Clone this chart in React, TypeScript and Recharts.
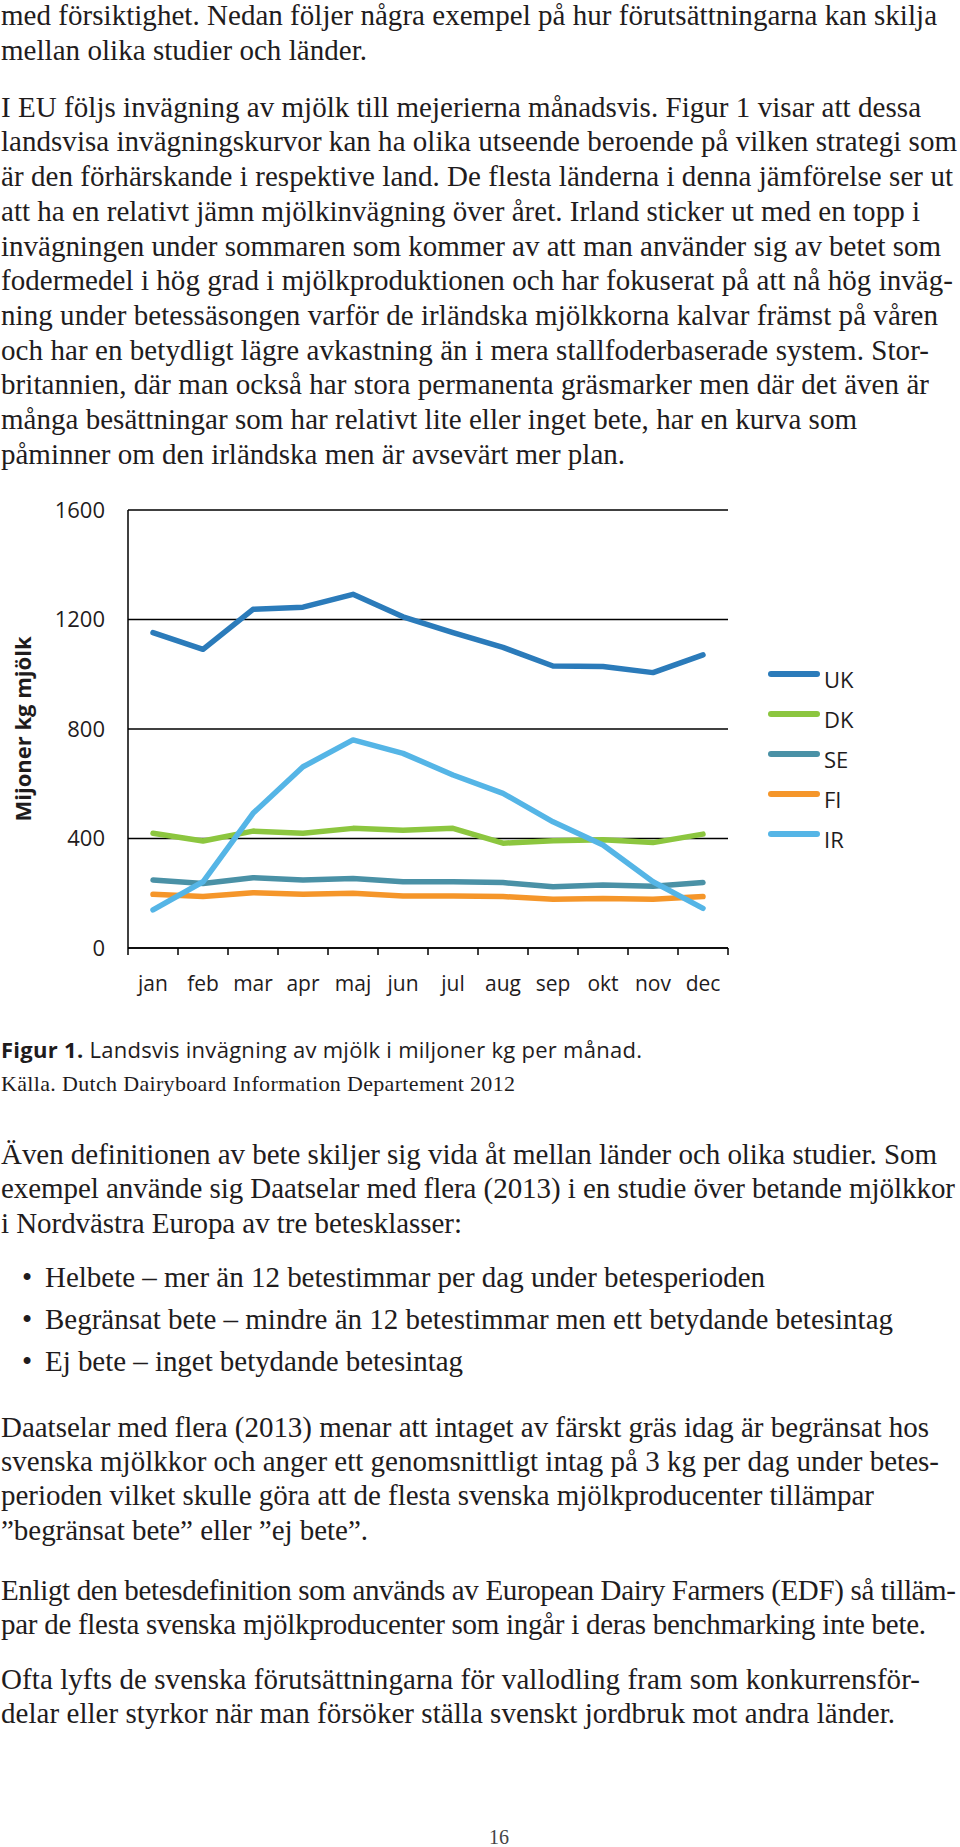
import React from 'react';
import {
  LineChart, Line, XAxis, YAxis, CartesianGrid, Legend,
} from 'recharts';

// Månader och invägning (miljoner kg) per land
const MONTHS = ['jan', 'feb', 'mar', 'apr', 'maj', 'jun', 'jul', 'aug', 'sep', 'okt', 'nov', 'dec'];
const UK = [1152, 1091, 1237, 1245, 1292, 1210, 1152, 1098, 1030, 1028, 1006, 1071];
const DK = [419, 391, 427, 419, 437, 430, 437, 383, 392, 395, 385, 416];
const SE = [248, 236, 257, 248, 254, 242, 242, 239, 224, 230, 226, 239];
const FI = [196, 188, 202, 196, 200, 190, 190, 188, 178, 181, 178, 188];
const IR = [139, 242, 492, 662, 760, 711, 632, 565, 461, 376, 242, 145];
const Y_TICKS = [0, 400, 800, 1200, 1600];
const X_BOUNDS = [0, 1, 2, 3, 4, 5, 6, 7, 8, 9, 10, 11, 12];

const SERIES = [
  { key: 'UK', color: '#2b7bba' },
  { key: 'DK', color: '#8cc63f' },
  { key: 'SE', color: '#4a91a6' },
  { key: 'FI', color: '#f5962a' },
  { key: 'IR', color: '#55b5e6' },
];

const data = MONTHS.map((m, i) => ({
  pos: i + 0.5,
  month: m,
  UK: UK[i], DK: DK[i], SE: SE[i], FI: FI[i], IR: IR[i],
}));

// Brödtext, rad för rad: [text, högerkant i px]
const TEXT_TOP: [string, number][] = [
  ['med försiktighet. Nedan följer några exempel på hur förutsättningarna kan skilja', 937],
  ['mellan olika studier och länder.', 367],
];
const TEXT_P2: [string, number][] = [
  ['I EU följs invägning av mjölk till mejerierna månadsvis. Figur 1 visar att dessa', 921],
  ['landsvisa invägningskurvor kan ha olika utseende beroende på vilken strategi som', 957],
  ['är den förhärskande i respektive land. De flesta länderna i denna jämförelse ser ut', 953],
  ['att ha en relativt jämn mjölkinvägning över året. Irland sticker ut med en topp i', 920],
  ['invägningen under sommaren som kommer av att man använder sig av betet som', 941],
  ['fodermedel i hög grad i mjölkproduktionen och har fokuserat på att nå hög inväg-', 953],
  ['ning under betessäsongen varför de irländska mjölkkorna kalvar främst på våren', 938],
  ['och har en betydligt lägre avkastning än i mera stallfoderbaserade system. Stor-', 929],
  ['britannien, där man också har stora permanenta gräsmarker men där det även är', 929],
  ['många besättningar som har relativt lite eller inget bete, har en kurva som', 857],
  ['påminner om den irländska men är avsevärt mer plan.', 625],
];
const TEXT_P3: [string, number][] = [
  ['Även definitionen av bete skiljer sig vida åt mellan länder och olika studier. Som', 937],
  ['exempel använde sig Daatselar med flera (2013) i en studie över betande mjölkkor', 955],
  ['i Nordvästra Europa av tre betesklasser:', 462],
];
const BULLETS: [string, number][] = [
  ['Helbete – mer än 12 betestimmar per dag under betesperioden', 765],
  ['Begränsat bete – mindre än 12 betestimmar men ett betydande betesintag', 893],
  ['Ej bete – inget betydande betesintag', 463],
];
const TEXT_P4: [string, number][] = [
  ['Daatselar med flera (2013) menar att intaget av färskt gräs idag är begränsat hos', 929],
  ['svenska mjölkkor och anger ett genomsnittligt intag på 3 kg per dag under betes-', 939],
  ['perioden vilket skulle göra att de flesta svenska mjölkproducenter tillämpar', 874],
  ['”begränsat bete” eller ”ej bete”.', 368],
];
const TEXT_P5: [string, number][] = [
  ['Enligt den betesdefinition som används av European Dairy Farmers (EDF) så tilläm-', 956],
  ['par de flesta svenska mjölkproducenter som ingår i deras benchmarking inte bete.', 926],
];
const TEXT_P6: [string, number][] = [
  ['Ofta lyfts de svenska förutsättningarna för vallodling fram som konkurrensför-', 920],
  ['delar eller styrkor när man försöker ställa svenskt jordbruk mot andra länder.', 895],
];

const SERIF = '"Liberation Serif", "Times New Roman", serif';
const SANS = '"Open Sans", "Noto Sans", sans-serif';
const INK = '#1f1c1d';
const FS = 29;
const STEP = 34.7;

function Row({ text, cy, x = 1, right, size = FS, family = SERIF }: any) {
  return (
    <text x={x} y={cy + size * 0.3} fontSize={size} fontFamily={family} fill={INK}
      textLength={right - x} lengthAdjust="spacing">{text}</text>
  );
}

function Block({ lines, start, step = STEP }: { lines: [string, number][]; start: number; step?: number }) {
  return <>{lines.map(([t, r], i) => <Row key={i} text={t} right={r} cy={start + i * step} />)}</>;
}

const HALF_CAT = 25;

function MonthTick(props: any) {
  const { x, y, payload } = props;
  const idx = payload.value;
  if (idx >= MONTHS.length) return <g />;
  return (
    <text x={x + HALF_CAT} y={y} dy={34} textAnchor="middle" fontSize={21} fontFamily={SANS} fill={INK}>
      {MONTHS[idx]}
    </text>
  );
}

function LegendBox() {
  return (
    <div style={{ fontFamily: SANS }}>
      {SERIES.map((s) => (
        <div key={s.key} style={{ display: 'flex', alignItems: 'center', height: 40 }}>
          <span style={{ width: 52, height: 6, borderRadius: 3, background: s.color, display: 'inline-block' }} />
          <span style={{ fontSize: 22, color: INK, marginLeft: 4, paddingTop: 10 }}>{s.key}</span>
        </div>
      ))}
    </div>
  );
}

function YLabel(props: any) {
  const { viewBox } = props;
  const x = viewBox.x + 22;
  const y = viewBox.y + viewBox.height / 2;
  return (
    <text x={x} y={y} transform={`rotate(-90, ${x}, ${y})`} textAnchor="middle" dominantBaseline="central"
      fontSize={22} fontWeight="bold" fontFamily={SANS} fill={INK}>
      Mijoner kg mjölk
    </text>
  );
}

export default function App() {
  return (
    <div style={{ position: 'absolute', left: 0, top: 0, width: 960, height: 1847, background: '#fff', overflow: 'hidden' }}>
      <svg width={960} height={1847} style={{ position: 'absolute', left: 0, top: 0 }}>
        <Block lines={TEXT_TOP} start={16.5} />
        <Block lines={TEXT_P2} start={108} />

        <text x={1} y={1050 + 22 * 0.36} fontSize={22} fontFamily={SANS} fill={INK} textLength={641} lengthAdjust="spacing">
          <tspan fontWeight="bold">Figur 1.</tspan> Landsvis invägning av mjölk i miljoner kg per månad.
        </text>
        <Row text="Källa. Dutch Dairyboard Information Departement 2012" cy={1084} size={22} right={515} />

        <Block lines={TEXT_P3} start={1155} />
        {BULLETS.map(([b, r], i) => (
          <React.Fragment key={i}>
            <text x={27} y={1278 + i * 42 + 8.7} fontSize={FS} fontFamily={SERIF} fill={INK} textAnchor="middle">•</text>
            <Row text={b} cy={1278 + i * 42} x={45} right={r} />
          </React.Fragment>
        ))}
        <Block lines={TEXT_P4} start={1428} step={34.3} />
        <Block lines={TEXT_P5} start={1591} />
        <Block lines={TEXT_P6} start={1680} />
        <text x={499} y={1837 + 7} fontSize={20} fontFamily={SERIF} fill="#444" textAnchor="middle">16</text>
      </svg>

      <div style={{ position: 'absolute', left: 0, top: 490 }}>
        <LineChart width={960} height={520} data={data} margin={{ top: 20, right: 232, bottom: 0, left: 0 }}>
          <CartesianGrid vertical={false} stroke="#000" strokeWidth={1.3} />
          <XAxis
            type="number" dataKey="pos" domain={[0, 12]} ticks={X_BOUNDS} height={62}
            axisLine={{ stroke: '#000', strokeWidth: 1.5 }} tickLine={{ stroke: '#000', strokeWidth: 1.5 }}
            tickSize={7} tick={<MonthTick />} interval={0}
          />
          <YAxis
            domain={[0, 1600]} ticks={Y_TICKS} width={128}
            axisLine={{ stroke: '#000', strokeWidth: 1.5 }} tickLine={false} tickMargin={17}
            tick={{ fontSize: 22, fontFamily: SANS, fill: INK }}
            label={<YLabel />}
          />
          <Legend
            layout="vertical" align="center" verticalAlign="middle" content={<LegendBox />}
            wrapperStyle={{ left: 768, top: 164, width: 120 }}
          />
          {SERIES.map((s) => (
            <Line key={s.key} dataKey={s.key} stroke={s.color} strokeWidth={5.5} dot={false}
              strokeLinecap="round" strokeLinejoin="round" isAnimationActive={false} type="linear" />
          ))}
        </LineChart>
      </div>
    </div>
  );
}
